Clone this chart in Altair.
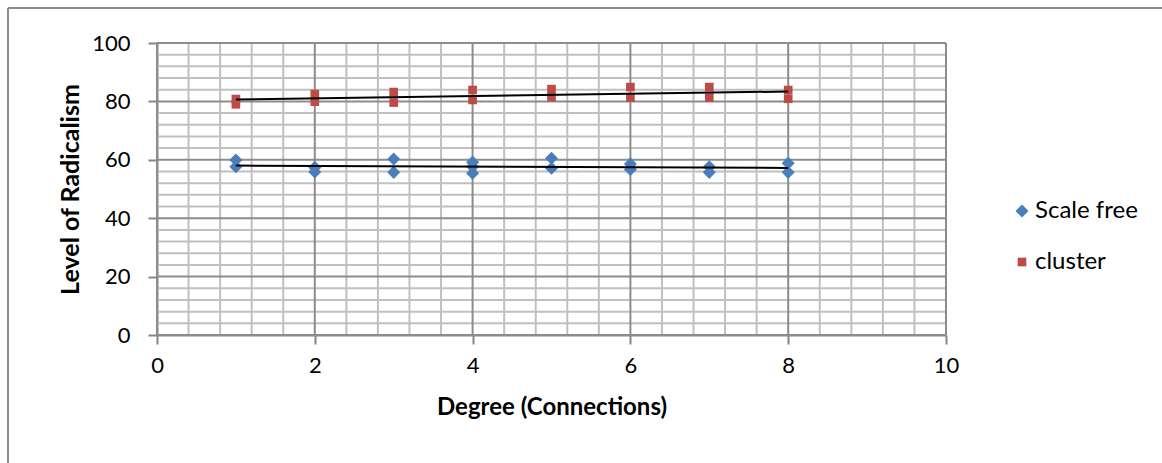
import altair as alt
import pandas as pd

# ---- data ----
SF_X = [1, 1, 2, 2, 3, 3, 4, 4, 4, 5, 5, 6, 6, 7, 7, 8, 8]
SF_Y = [59.9, 57.6, 57.4, 55.8, 60.3, 55.7, 59.2, 57.6, 55.4, 60.5, 57.1, 58.6, 56.7, 57.6, 55.7, 58.8, 55.7]
CL_X = [1, 1, 2, 2, 3, 3, 4, 4, 5, 5, 6, 6, 7, 7, 8, 8]
CL_Y = [80.8, 79.0, 82.5, 79.9, 83.2, 79.6, 83.9, 80.5, 84.2, 81.5, 84.9, 81.3, 84.9, 81.3, 83.9, 80.9]
SERIES = ["Scale free", "cluster"]
COLORS = ["#4A7EBB", "#BE4B48"]
SHAPES = ["diamond", "square"]
SIZES = [170, 75]

X_MAJOR = [0, 2, 4, 6, 8, 10]
X_MINOR = [0.4, 0.8, 1.2, 1.6, 2.4, 2.8, 3.2, 3.6, 4.4, 4.8, 5.2, 5.6,
           6.4, 6.8, 7.2, 7.6, 8.4, 8.8, 9.2, 9.6]
Y_MAJOR = [0, 20, 40, 60, 80, 100]
Y_MINOR = [4, 8, 12, 16, 24, 28, 32, 36, 44, 48, 52, 56, 64, 68, 72, 76, 84, 88, 92, 96]

FONT = "Lato"

pts = pd.DataFrame({
    "x": SF_X + CL_X,
    "y": SF_Y + CL_Y,
    "series": [SERIES[0]] * len(SF_X) + [SERIES[1]] * len(CL_X),
})

xs = alt.Scale(domain=[0, 10], nice=False, zero=True)
ys = alt.Scale(domain=[0, 100], nice=False, zero=True)

x_enc = alt.X("x:Q", scale=xs, title="Degree (Connections)",
              axis=alt.Axis(values=X_MAJOR, format="d", grid=False, tickSize=9, tickColor="#868686",
                            tickWidth=2, domainColor="#868686", domainWidth=2, labelFlush=False,
                            labelFontSize=22, labelPadding=11, labelFont=FONT,
                            labelColor="#000000", titleFont=FONT, titleFontSize=24,
                            titleFontWeight="bold", titleColor="#000000", titlePadding=19))
y_enc = alt.Y("y:Q", scale=ys, title="Level of Radicalism",
              axis=alt.Axis(values=Y_MAJOR, format="d", grid=False, tickSize=9, tickColor="#868686",
                            tickWidth=2, domainColor="#868686", domainWidth=2, labelFlush=False,
                            labelFontSize=22, labelPadding=18, labelFont=FONT,
                            labelColor="#000000", titleFont=FONT, titleFontSize=25,
                            titleFontWeight="bold", titleColor="#000000", titlePadding=8))

vminor = alt.Chart(pd.DataFrame({"v": X_MINOR})).mark_rule(color="#C0C0C0", strokeWidth=2).encode(
    x=alt.X("v:Q", scale=xs))
vmajor = alt.Chart(pd.DataFrame({"v": X_MAJOR})).mark_rule(color="#8C8C8C", strokeWidth=2).encode(
    x=alt.X("v:Q", scale=xs))
hminor = alt.Chart(pd.DataFrame({"v": Y_MINOR})).mark_rule(color="#C0C0C0", strokeWidth=2).encode(
    y=alt.Y("v:Q", scale=ys))
hmajor = alt.Chart(pd.DataFrame({"v": Y_MAJOR})).mark_rule(color="#8C8C8C", strokeWidth=2).encode(
    y=alt.Y("v:Q", scale=ys))

legend = alt.Legend(title=None, orient="none", legendX=853, legendY=156,
                    labelFontSize=24, labelFont=FONT, labelColor="#000000",
                    rowPadding=27, labelOffset=1)

points = alt.Chart(pts).mark_point(filled=True, opacity=1).encode(
    x=x_enc,
    y=y_enc,
    color=alt.Color("series:N", scale=alt.Scale(domain=SERIES, range=COLORS), legend=legend),
    shape=alt.Shape("series:N", scale=alt.Scale(domain=SERIES, range=SHAPES), legend=legend),
    size=alt.Size("series:N", scale=alt.Scale(domain=SERIES, range=SIZES), legend=legend),
)

trend = alt.Chart(pts).transform_regression("x", "y", groupby=["series"]).mark_line(
    color="#000000", strokeWidth=2).encode(
    x=alt.X("x:Q", scale=xs),
    y=alt.Y("y:Q", scale=ys),
    detail="series:N",
)

border_top = alt.Chart(pd.DataFrame({"a": [0]})).mark_rule(color="#8C8C8C", strokeWidth=2).encode(
    x=alt.value(-149), x2=alt.value(1010), y=alt.value(-35))
border_left = alt.Chart(pd.DataFrame({"a": [0]})).mark_rule(color="#8C8C8C", strokeWidth=2).encode(
    x=alt.value(-149), y=alt.value(-35), y2=alt.value(430))

chart = alt.layer(vminor, hminor, vmajor, hmajor, points, trend, border_top, border_left).properties(
    width=789, height=292,
    autosize=alt.AutoSizeParams(type="none"),
    padding={"left": 157, "top": 43, "right": 216, "bottom": 128},
    background="#FFFFFF",
).configure_view(stroke=None)

chart.save("out.html", embed_options={"renderer": "svg", "actions": False})
